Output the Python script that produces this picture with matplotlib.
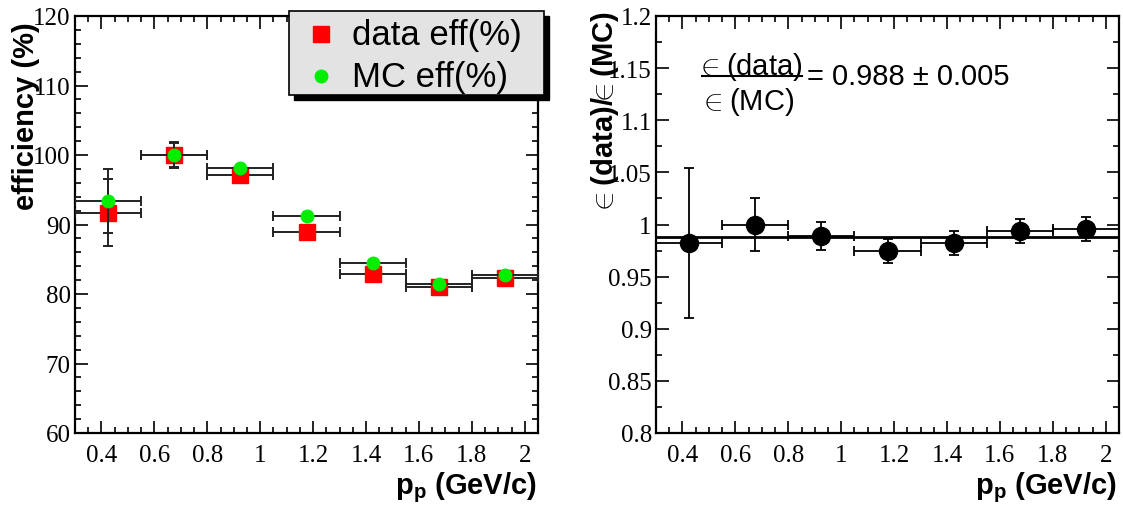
import matplotlib
matplotlib.use('Agg')
import matplotlib.pyplot as plt
from matplotlib.ticker import MultipleLocator, FormatStrFormatter
from matplotlib.patches import Rectangle
from matplotlib.lines import Line2D

plt.rcParams['mathtext.fontset'] = 'custom'
plt.rcParams['mathtext.bf'] = 'Liberation Sans:bold'
plt.rcParams['mathtext.rm'] = 'Liberation Sans'

# momentum bins (GeV/c)
p_centers = [0.425, 0.675, 0.925, 1.175, 1.425, 1.675, 1.925]
p_halfwidth = [0.125, 0.125, 0.125, 0.125, 0.125, 0.125, 0.125]

# efficiencies in %
data_eff = [91.7, 100.0, 97.1, 88.9, 82.9, 81.0, 82.3]
data_err = [4.85, 1.9, 0.5, 0.5, 0.5, 0.4, 0.4]
mc_eff = [93.4, 100.0, 98.1, 91.2, 84.4, 81.4, 82.7]
mc_err = [4.65, 1.7, 0.4, 0.4, 0.4, 0.3, 0.3]

# ratio data/MC
ratio = [0.982, 1.000, 0.989, 0.9745, 0.982, 0.994, 0.9955]
ratio_err = [0.072, 0.025, 0.0135, 0.0115, 0.0115, 0.0115, 0.0115]
fit_value = 0.988
fit_range = [0.3, 2.05]

W, H = 1123, 506
fig = plt.figure(figsize=(W / 100, H / 100), dpi=100)


def fx(px):
    return px / W


def fy(py):
    return 1 - py / H


ax1 = fig.add_axes([fx(75), fy(434), fx(463), (434 - 17) / H])
ax2 = fig.add_axes([fx(656), fy(434), fx(463), (434 - 17) / H])


def style(ax, ymaj, ymin):
    ax.set_xlim(0.3, 2.05)
    ax.xaxis.set_major_locator(MultipleLocator(0.2))
    ax.xaxis.set_minor_locator(MultipleLocator(0.05))
    ax.yaxis.set_major_locator(MultipleLocator(ymaj))
    ax.yaxis.set_minor_locator(MultipleLocator(ymin))
    ax.xaxis.set_major_formatter(FormatStrFormatter('%g'))
    ax.yaxis.set_major_formatter(FormatStrFormatter('%g'))
    ax.tick_params(which='both', direction='in', top=True, right=True, width=1.2)
    ax.tick_params(which='major', length=9)
    ax.tick_params(which='minor', length=4.5)
    ax.tick_params(axis='x', pad=8)
    ax.tick_params(axis='y', pad=3)
    for lab in ax.get_xticklabels() + ax.get_yticklabels():
        lab.set_fontfamily('Liberation Serif')
        lab.set_fontsize(18)
    for s in ax.spines.values():
        s.set_linewidth(1.6)


# left panel: efficiencies
ax1.set_ylim(60, 120)
ax1.errorbar(p_centers, data_eff, xerr=p_halfwidth, yerr=data_err, fmt='s', color='red',
             ms=11, ecolor='#222222', elinewidth=1.4, capsize=3.5, capthick=1.4, zorder=3)
ax1.errorbar(p_centers, mc_eff, xerr=p_halfwidth, yerr=mc_err, fmt='o', color='#00ee00',
             ms=9, ecolor='#222222', elinewidth=1.4, capsize=3.5, capthick=1.4, zorder=4)
style(ax1, 10, 2)

# right panel: ratio
ax2.set_ylim(0.8, 1.2)
ax2.plot(fit_range, [fit_value, fit_value], color='black', lw=2, zorder=2)
ax2.errorbar(p_centers, ratio, xerr=p_halfwidth, yerr=ratio_err, fmt='o', color='black',
             ms=13, ecolor='black', elinewidth=1.3, capsize=3.5, capthick=1.3, zorder=3)
style(ax2, 0.05, 0.025)

# axis labels
sans_b = {'family': ['Liberation Sans', 'DejaVu Sans'], 'weight': 'bold', 'size': 21}
fig.text(fx(26), fy(116), 'efficiency (%)', rotation=90, ha='center', va='center', **sans_b)
fig.text(fx(605), fy(114), r'$\in$(data)/$\!\!\in$(MC)', rotation=90, ha='center', va='center', **sans_b)
fig.text(fx(537), fy(494), r'$\mathbf{p}_\mathbf{p}$ (GeV/c)', ha='right', va='baseline', **sans_b)
fig.text(fx(1117), fy(494), r'$\mathbf{p}_\mathbf{p}$ (GeV/c)', ha='right', va='baseline', **sans_b)

# legend box with shadow
lx0, ly0, lx1, ly1 = 289, 12, 544, 96
fig.patches.append(Rectangle((fx(lx0 + 5), fy(ly1 + 5)), fx(lx1 - lx0), (ly1 - ly0) / H,
                             transform=fig.transFigure, facecolor='black', edgecolor='black', zorder=10))
fig.patches.append(Rectangle((fx(lx0), fy(ly1)), fx(lx1 - lx0), (ly1 - ly0) / H,
                             transform=fig.transFigure, facecolor='#e3e3e3', edgecolor='black',
                             lw=1.2, zorder=11))
fig.add_artist(Line2D([fx(321)], [fy(35)], marker='s', color='red', ms=11, ls='none', zorder=12))
fig.add_artist(Line2D([fx(321)], [fy(77)], marker='o', color='#00ee00', ms=9, ls='none', zorder=12))
legfont = {'family': ['Liberation Sans', 'DejaVu Sans'], 'size': 25}
fig.text(fx(352), fy(36), 'data eff(%)', ha='left', va='center', zorder=12, **legfont)
fig.text(fx(352), fy(78), 'MC eff(%)', ha='left', va='center', zorder=12, **legfont)

# fit result text
sans = {'family': ['Liberation Sans', 'DejaVu Sans'], 'size': 21}
fig.text(fx(700), fy(67), r'$\!\in$(data)', ha='left', va='center', **sans)
fig.text(fx(703), fy(102), r'$\!\in$(MC)', ha='left', va='center', **sans)
fig.add_artist(Line2D([fx(702), fx(802)], [fy(77), fy(77)], color='black', lw=1.5))
fig.text(fx(807), fy(77), '= 0.988 \u00b1 0.005', ha='left', va='center', **sans)

fig.savefig('out.png', dpi=100)
